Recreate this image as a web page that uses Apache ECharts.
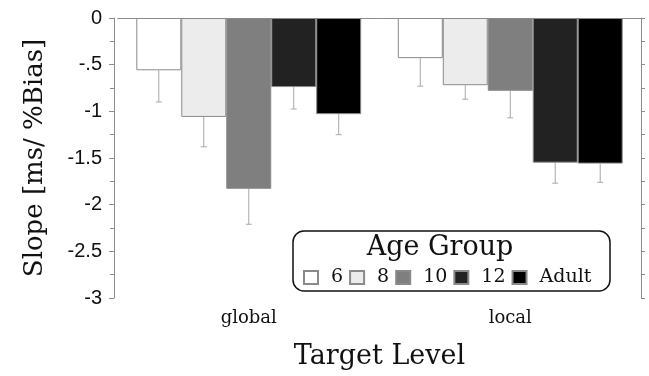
<!DOCTYPE html>
<html>
<head>
<meta charset="utf-8">
<script src="https://cdn.jsdelivr.net/npm/echarts@6/dist/echarts.min.js"></script>
<style>
  html, body { margin: 0; padding: 0; background: #fff; }
  #chart { width: 649px; height: 376px; }
</style>
</head>
<body>
<div id="chart"></div>
<script>
// Target levels on the x axis
var levels = ['global', 'local'];
// Age groups (legend order)
var groups = ['6', '8', '10', '12', 'Adult'];
// Mean slope per age group, [global, local]
var slope6     = [-0.56, -0.43];
var slope8     = [-1.06, -0.72];
var slope10    = [-1.83, -0.78];
var slope12    = [-0.74, -1.55];
var slopeAdult = [-1.03, -1.56];
// Error bar lengths (drawn downward from the mean), [global, local]
var err6     = [0.34, 0.30];
var err8     = [0.32, 0.15];
var err10    = [0.38, 0.29];
var err12    = [0.235, 0.22];
var errAdult = [0.22, 0.20];
// Y tick values
var yTicks = [0, -0.5, -1, -1.5, -2, -2.5, -3];

var means = [slope6, slope8, slope10, slope12, slopeAdult];
var errs = [err6, err8, err10, err12, errAdult];
var fills = ['#ffffff', '#ececec', '#7f7f7f', '#222222', '#000000'];
var CAT_GAP = 0.14;

var serif = 'DejaVu Serif';
var sans = 'Liberation Sans';
var axisGray = '#8c8c8c';

var barSeries = groups.map(function (g, i) {
  return {
    name: g,
    type: 'bar',
    data: means[i],
    barGap: '0%',
    barCategoryGap: (CAT_GAP * 100) + '%',
    itemStyle: { color: fills[i], borderColor: '#8a8a8a', borderWidth: 1 },
    z: 3
  };
});

// rows: [category index, group index, mean, lower end]
var errRows = [];
groups.forEach(function (g, i) {
  levels.forEach(function (lv, c) {
    errRows.push([c, i, means[i][c], means[i][c] - errs[i][c]]);
  });
});

var errSeries = {
  type: 'custom',
  xAxisIndex: 0,
  yAxisIndex: 0,
  data: errRows,
  z: 2,
  silent: true,
  renderItem: function (params, api) {
    var c = api.value(0), gi = api.value(1);
    var top = api.coord([c, api.value(2)]);
    var bot = api.coord([c, api.value(3)]);
    var band = api.size([1, 0])[0];
    var barW = band * (1 - CAT_GAP) / groups.length;
    var x = top[0] + (gi - (groups.length - 1) / 2) * barW;
    var st = { stroke: '#a8a8a8', lineWidth: 1 };
    return {
      type: 'group',
      children: [
        { type: 'line', shape: { x1: x, y1: top[1], x2: x, y2: bot[1] }, style: st },
        { type: 'line', shape: { x1: x - 3, y1: bot[1], x2: x + 3, y2: bot[1] }, style: st }
      ]
    };
  }
};

var chart = echarts.init(document.getElementById('chart'), null, { renderer: 'canvas' });
chart.setOption({
  animation: false,
  backgroundColor: '#ffffff',
  grid: { left: 118, right: 8, top: 18, bottom: 78 },
  xAxis: [{
    type: 'category',
    data: levels,
    position: 'bottom',
    axisLine: { lineStyle: { color: axisGray, width: 1 } },
    axisTick: { alignWithLabel: true, length: 3, lineStyle: { color: axisGray } },
    axisLabel: { fontFamily: serif, fontSize: 18, color: '#111', margin: 11 },
    name: 'Target Level',
    nameLocation: 'middle',
    nameGap: 45,
    nameTextStyle: { fontFamily: serif, fontSize: 27, color: '#111' }
  }, {
    type: 'category',
    data: levels,
    position: 'top',
    axisLine: { lineStyle: { color: axisGray, width: 1 } },
    axisTick: { alignWithLabel: true, length: 3, lineStyle: { color: axisGray } },
    axisLabel: { show: false }
  }],
  yAxis: [{
    type: 'value',
    min: -3,
    max: 0,
    interval: 0.5,
    position: 'left',
    offset: 4,
    axisLine: { show: true, lineStyle: { color: axisGray, width: 1 } },
    axisTick: { show: true, length: 5, lineStyle: { color: axisGray } },
    minorTick: { show: true, splitNumber: 2, length: 4, lineStyle: { color: axisGray } },
    splitLine: { show: false },
    axisLabel: {
      fontFamily: sans, fontSize: 20, color: '#111', margin: 12,
      formatter: function (v) {
        return v === 0 ? '0' : String(v).replace('0.', '.');
      }
    },
    name: 'Slope [ms/ %Bias]',
    nameLocation: 'middle',
    nameGap: 66,
    nameTextStyle: { fontFamily: serif, fontSize: 26, color: '#111' }
  }, {
    type: 'value',
    min: -3,
    max: 0,
    interval: 0.5,
    position: 'right',
    axisLine: { show: true, lineStyle: { color: axisGray, width: 1 } },
    axisTick: { show: true, length: 4, lineStyle: { color: axisGray } },
    minorTick: { show: true, splitNumber: 2, length: 4, lineStyle: { color: axisGray } },
    splitLine: { show: false },
    axisLabel: { show: false }
  }],
  legend: {
    data: groups,
    left: 303,
    top: 268,
    padding: 0,
    icon: 'rect',
    itemWidth: 14,
    itemHeight: 13,
    itemGap: 6,
    textStyle: { fontFamily: serif, fontSize: 19, color: '#111', padding: [0, 0, 0, 8] },
    z: 10
  },
  graphic: [{
    type: 'rect',
    shape: { x: 293, y: 231, width: 317, height: 60, r: 11 },
    style: { fill: '#ffffff', stroke: '#111', lineWidth: 1.5 },
    z: 5
  }, {
    type: 'text',
    x: 440,
    y: 248,
    style: {
      text: 'Age Group', fontFamily: serif, fontSize: 27, fill: '#111',
      textAlign: 'center', textVerticalAlign: 'middle'
    },
    z: 6
  }],
  series: barSeries.concat([errSeries])
});
</script>
</body>
</html>
